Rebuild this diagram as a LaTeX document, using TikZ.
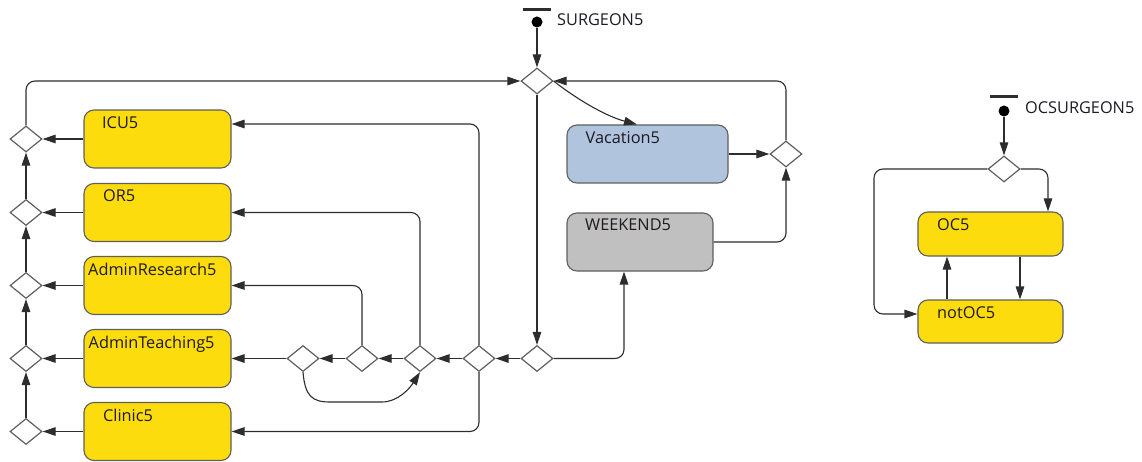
\documentclass[tikz,border=0pt]{standalone}
\usepackage{fontspec}
\setmainfont{Open Sans}
\usetikzlibrary{shapes.geometric,arrows.meta}
\definecolor{ylw}{RGB}{252,220,12}
\definecolor{vblue}{RGB}{176,196,222}
\definecolor{wgray}{RGB}{192,192,192}
\definecolor{bord}{RGB}{95,95,95}
\definecolor{lin}{RGB}{45,45,45}
\definecolor{txt}{RGB}{30,25,35}
\begin{document}
\begin{tikzpicture}[x=1pt,y=-1pt,
 box/.style={draw=bord, line width=1.1pt, rounded corners=10pt, inner sep=0pt},
 ybox/.style={box, fill=ylw},
 dia/.style={diamond, draw=bord, fill=white, line width=1.2pt, inner sep=0pt, minimum width=32pt, minimum height=26pt},
 conn/.style={draw=lin, line width=1.1pt, rounded corners=9pt, -{Triangle[length=13pt,width=8.5pt]}},
 lbl/.style={anchor=base west, inner sep=0pt, font=\fontsize{16.3}{19}\selectfont, text=txt},
 dot/.style={circle, fill=black, inner sep=0pt, minimum size=11pt},
 bar/.style={fill=lin, inner sep=0pt, minimum width=28pt, minimum height=3pt},
]
\useasboundingbox (0,0) rectangle (1142,462);

% boxes
\node[ybox, minimum width=147pt, minimum height=58pt] (icu) at (157.5,139) {};
\node[ybox, minimum width=147pt, minimum height=58pt] (or) at (157.5,212.5) {};
\node[ybox, minimum width=147pt, minimum height=58pt] (ar) at (157.5,285.5) {};
\node[ybox, minimum width=147pt, minimum height=58pt] (at) at (157.5,358.5) {};
\node[ybox, minimum width=147pt, minimum height=58pt] (cl) at (157.5,431.5) {};
\node[box, fill=vblue, minimum width=161pt, minimum height=58pt] (vac) at (647.5,154) {};
\node[box, fill=wgray, minimum width=146pt, minimum height=58pt] (wk) at (640,242) {};
\node[ybox, minimum width=145pt, minimum height=44pt] (oc5) at (990.5,234) {};
\node[ybox, minimum width=145pt, minimum height=43pt] (noc) at (990.5,321.5) {};

% labels
\node[lbl] (ticu) at (102,128.5) {ICU5};
\node[lbl] (tor) at (103,202) {OR5};
\node[lbl] (tar) at (88,275) {AdminResearch5};
\node[lbl] (tat) at (88.5,348) {AdminTeaching5};
\node[lbl] (tcl) at (103,421) {Clinic5};
\node[lbl] (tvac) at (585.5,143.5) {Vacation5};
\node[lbl] (twk) at (585,231) {WEEKEND5};
\node[lbl] (toc) at (937,231) {OC5};
\node[lbl] (tnoc) at (937,318.5) {notOC5};

% diamonds
\node[dia] (m) at (537,81) {};
\node[dia] (l1) at (26,139) {};
\node[dia] (l2) at (26,212.5) {};
\node[dia] (l3) at (26,285.5) {};
\node[dia] (l4) at (26,358.5) {};
\node[dia] (l5) at (26,431.5) {};
\node[dia] (b1) at (303,358.5) {};
\node[dia] (b2) at (362,358.5) {};
\node[dia] (b3) at (420,358.5) {};
\node[dia] (b4) at (479,358.5) {};
\node[dia] (b5) at (537,358.5) {};
\node[dia] (r) at (786,154) {};
\node[dia] (oc) at (1004,169) {};

% initial states
\node[bar] (sb) at (537,10) {};
\node[dot] (s) at (537,22) {};
\node[lbl] (ts) at (557,25.5) {SURGEON5};
\node[bar] (ob) at (1004,97) {};
\node[dot] (os) at (1004,111) {};
\node[lbl] (tos) at (1025,114) {OCSURGEON5};

% connectors
\draw[conn] (s) -- (m.north);
\draw[conn] (os) -- (oc.north);

\draw[conn] (icu.west) -- (l1.east);
\draw[conn] (or.west) -- (l2.east);
\draw[conn] (ar.west) -- (l3.east);
\draw[conn] (at.west) -- (l4.east);
\draw[conn] (cl.west) -- (l5.east);
\draw[conn] (l2.north) -- (l1.south);
\draw[conn] (l3.north) -- (l2.south);
\draw[conn] (l4.north) -- (l3.south);
\draw[conn] (l5.north) -- (l4.south);
\draw[conn] (l1.north) |- (m.west);

\draw[conn] (m.south) -- (b5.north);
\draw[conn] (b5.west) -- (b4.east);
\draw[conn] (b4.west) -- (b3.east);
\draw[conn] (b3.west) -- (b2.east);
\draw[conn] (b2.west) -- (b1.east);
\draw[conn] (b1.west) -- (at.east);
\draw[conn] (b2.north) |- (ar.east);
\draw[conn] (b3.north) |- (or.east);
\draw[conn] (b4.north) |- ([yshift=15pt]icu.east);
\draw[conn] (b4.south) |- (cl.east);
\draw[conn, sharp corners] (b1.south) .. controls (305,396) and (312,402) .. (330,402) -- (382,402) .. controls (398,402) and (410,388) .. (b3.south);
\draw[conn] (b5.east) -| ([xshift=-16pt]wk.south);

\draw[conn] (vac.east) -- (r.west);
\draw[conn] (wk.east) -| (r.south);
\draw[conn] (r.north) |- (m.east);
\draw[conn, sharp corners] (m.east) .. controls (575,98) and (605,116) .. ([xshift=-10.5pt]vac.north);

\draw[conn] (oc.east) -| ([xshift=57.5pt]oc5.north);
\draw[conn] (oc.west) -| ([xshift=-116.5pt,yshift=-80pt]oc5.north) |- ([yshift=7.5pt]noc.west);
\draw[conn] ([xshift=29.5pt]oc5.south) -- ([xshift=29.5pt]noc.north);
\draw[conn] ([xshift=-43.5pt]noc.north) -- ([xshift=-43.5pt]oc5.south);
\end{tikzpicture}
\end{document}
